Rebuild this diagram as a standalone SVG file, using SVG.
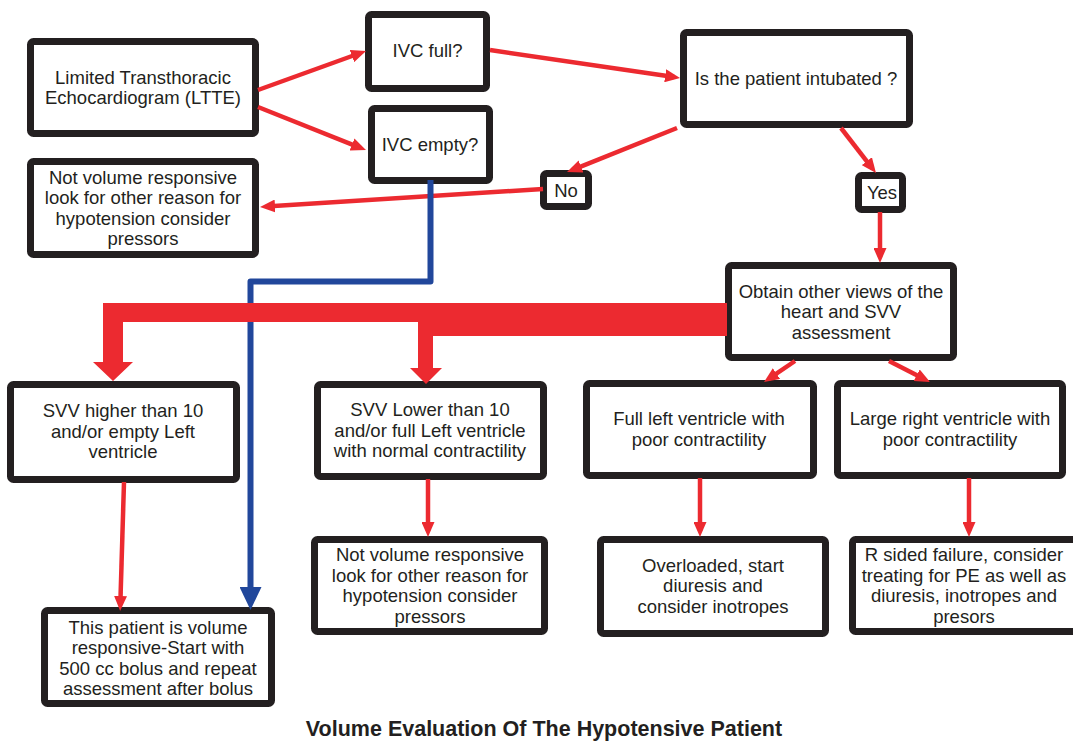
<svg xmlns="http://www.w3.org/2000/svg" width="1073" height="741" viewBox="0 0 1073 741">
  <style>
    .box { fill: #ffffff; stroke: #231f20; stroke-width: 7; }
    .lbl { font-family: "Liberation Sans", Arial, sans-serif; font-size: 18.5px; fill: #231f20; text-anchor: middle; }
    .title { font-family: "Liberation Sans", Arial, sans-serif; font-size: 21.5px; font-weight: bold; fill: #231f20; text-anchor: middle; }
    .red { fill: none; stroke: #ec2a30; stroke-width: 4.5; marker-end: url(#redHead); }
    .blue { fill: none; stroke: #21479b; stroke-width: 6; stroke-linejoin: round; marker-end: url(#blueHead); }
  </style>
  <defs>
    <marker id="redHead" markerUnits="userSpaceOnUse" viewBox="0 0 15 13" markerWidth="15" markerHeight="13" refX="9" refY="6.5" orient="auto">
      <path d="M0,0 L15,6.5 L0,13 z" fill="#ec2a30"/>
    </marker>
    <marker id="blueHead" markerUnits="userSpaceOnUse" viewBox="0 0 23 22" markerWidth="23" markerHeight="22" refX="2" refY="11" orient="auto">
      <path d="M0,0 L23,11 L0,22 z" fill="#21479b"/>
    </marker>
  </defs>
  <rect width="1073" height="741" fill="#ffffff"/>

  <g id="ltte">
    <rect class="box" x="30.5" y="41.5" width="225" height="92" rx="3"/>
    <text class="lbl" x="143" y="83.75">Limited Transthoracic</text>
    <text class="lbl" x="143" y="104.25">Echocardiogram (LTTE)</text>
  </g>
  <g id="ivc-full">
    <rect class="box" x="368.5" y="14.5" width="118" height="74" rx="3"/>
    <text class="lbl" x="427.5" y="56.5">IVC full?</text>
  </g>
  <g id="ivc-empty">
    <rect class="box" x="371.5" y="108.5" width="118" height="72" rx="3"/>
    <text class="lbl" x="430" y="150.5">IVC empty?</text>
  </g>
  <g id="intubated">
    <rect class="box" x="683.5" y="32.5" width="226" height="92" rx="3"/>
    <text class="lbl" x="796" y="84.5">Is the patient intubated ?</text>
  </g>
  <g id="no">
    <rect class="box" x="543.5" y="173.5" width="45" height="33" rx="3"/>
    <text class="lbl" x="566" y="196.5">No</text>
  </g>
  <g id="yes">
    <rect class="box" x="858.5" y="175.5" width="44" height="34" rx="3"/>
    <text class="lbl" x="882" y="198.5">Yes</text>
  </g>
  <g id="not-responsive-top">
    <rect class="box" x="30.5" y="161.5" width="225" height="93" rx="3"/>
    <text class="lbl" x="143" y="183.75">Not volume responsive</text>
    <text class="lbl" x="143" y="204.25">look for other reason for</text>
    <text class="lbl" x="143" y="224.75">hypotension consider</text>
    <text class="lbl" x="143" y="245.25">pressors</text>
  </g>
  <g id="other-views">
    <rect class="box" x="728.5" y="265.5" width="225" height="92" rx="3"/>
    <text class="lbl" x="841" y="297.5">Obtain other views of the</text>
    <text class="lbl" x="841" y="318">heart and SVV</text>
    <text class="lbl" x="841" y="338.5">assessment</text>
  </g>
  <g id="svv-high">
    <rect class="box" x="10.5" y="384.5" width="226" height="95" rx="3"/>
    <text class="lbl" x="123" y="417">SVV higher than 10</text>
    <text class="lbl" x="123" y="437.5">and/or empty Left</text>
    <text class="lbl" x="123" y="458">ventricle</text>
  </g>
  <g id="svv-low">
    <rect class="box" x="317.5" y="384.5" width="226" height="92" rx="3"/>
    <text class="lbl" x="430" y="416">SVV Lower than 10</text>
    <text class="lbl" x="430" y="436.5">and/or full Left ventricle</text>
    <text class="lbl" x="430" y="457">with normal contractility</text>
  </g>
  <g id="full-left">
    <rect class="box" x="586.5" y="383.5" width="227" height="92" rx="3"/>
    <text class="lbl" x="699" y="425">Full left ventricle with</text>
    <text class="lbl" x="699" y="445.5">poor contractility</text>
  </g>
  <g id="large-right">
    <rect class="box" x="837.5" y="383.5" width="225" height="92" rx="3"/>
    <text class="lbl" x="950" y="425">Large right ventricle with</text>
    <text class="lbl" x="950" y="445.5">poor contractility</text>
  </g>
  <g id="volume-responsive">
    <rect class="box" x="44.5" y="610.5" width="227" height="93" rx="3"/>
    <text class="lbl" x="158" y="633.5">This patient is volume</text>
    <text class="lbl" x="158" y="654">responsive-Start with</text>
    <text class="lbl" x="158" y="674.5">500 cc bolus and repeat</text>
    <text class="lbl" x="158" y="695">assessment after bolus</text>
  </g>
  <g id="not-responsive-bottom">
    <rect class="box" x="314.5" y="539.5" width="230" height="92" rx="3"/>
    <text class="lbl" x="430" y="561">Not volume responsive</text>
    <text class="lbl" x="430" y="581.5">look for other reason for</text>
    <text class="lbl" x="430" y="602">hypotension consider</text>
    <text class="lbl" x="430" y="622.5">pressors</text>
  </g>
  <g id="overloaded">
    <rect class="box" x="600.5" y="539.5" width="225" height="94" rx="3"/>
    <text class="lbl" x="713" y="571.5">Overloaded, start</text>
    <text class="lbl" x="713" y="592">diuresis and</text>
    <text class="lbl" x="713" y="612.5">consider inotropes</text>
  </g>
  <g id="r-sided">
    <rect class="box" x="852.5" y="539.5" width="232" height="92" rx="3"/>
    <text class="lbl" x="964" y="561">R sided failure, consider</text>
    <text class="lbl" x="964" y="581.5">treating for PE as well as</text>
    <text class="lbl" x="964" y="602">diuresis, inotropes and</text>
    <text class="lbl" x="964" y="622.5">presors</text>
  </g>

  <g id="connectors">
    <path class="red" d="M258,90 L360.4,53"/>
    <path class="red" d="M258,107 L360.4,147.8"/>
    <path class="red" d="M490,50 L674.1,77.1"/>
    <path class="red" d="M677,128 L572.6,169.8"/>
    <path class="red" d="M841,128 L872.3,168.3"/>
    <path class="red" d="M543,189 L266,206.6"/>
    <path class="red" d="M880,212 L880,257"/>
    <path class="red" d="M795,361 L769,378.6"/>
    <path class="red" d="M889,361 L924.7,379.3"/>
    <path class="red" d="M124,482 L120.3,605"/>
    <path class="red" d="M428,479 L428,531"/>
    <path class="red" d="M700,478 L700,531"/>
    <path class="red" d="M969,478 L969,531"/>
    <path class="blue" d="M430.5,180 V281.5 H250.5 V589"/>
    <polygon fill="#ec2a30" points="727,303 103,303 103,362 93,362 113,381 133,362 123,362 123,322 418,322 418,368 410,368 426,384 442,368 433,368 433,336 727,336"/>
  </g>

  <text class="title" x="544" y="736">Volume Evaluation Of The Hypotensive Patient</text>
</svg>
